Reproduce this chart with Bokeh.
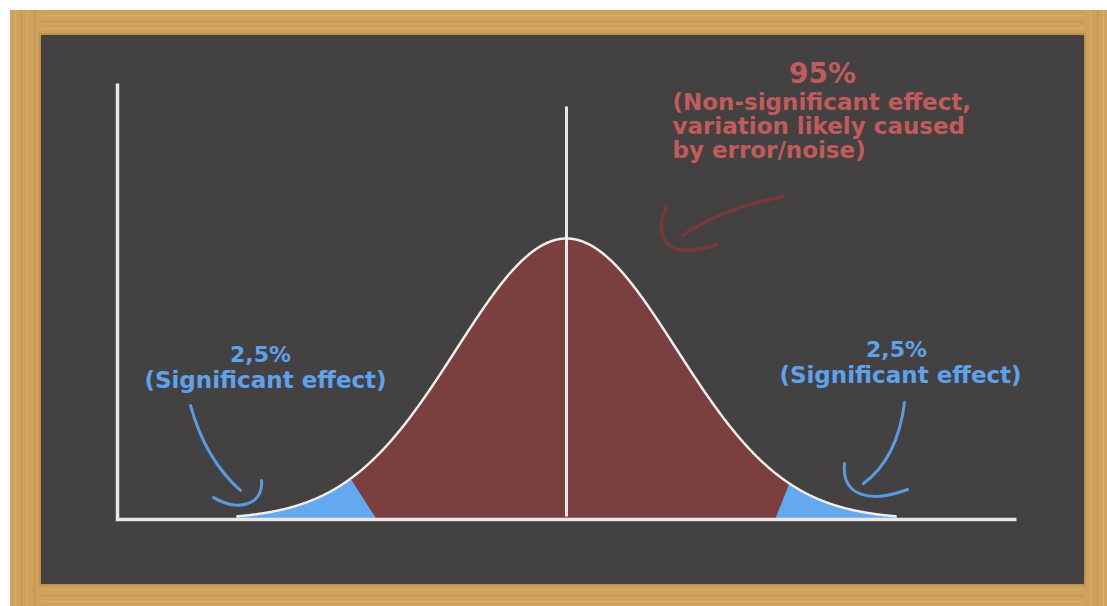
import numpy as np
from bokeh.plotting import figure
from bokeh.models import Range1d, Label
from bokeh.embed import file_html
from bokeh.resources import INLINE

# ---------------- data ----------------
mean = 0.0
std = 1.0
curve_span_sd = [-3.0, 3.0]          # curve drawn from -3 sd to +3 sd
boundary_top_z = [-1.96, 2.03]       # where the hand-drawn cut meets the curve
boundary_base_z = [-1.72, 1.90]      # where the hand-drawn cut meets the baseline
region_share = ["2,5%", "95%", "2,5%"]
tail_note = "(Significant effect)"
center_note_lines = ["(Non-significant effect,",
                     "variation likely caused",
                     "by error/noise)"]

# ---------------- layout (image pixels) ----------------
W, H = 1107, 606
PX0, PY0 = 0, 0
CX = 566.0          # image x of the mean
SD_PX = 110.0       # pixels per standard deviation
BASE_PY = 519.0     # image y of baseline
PEAK_PY = 238.0     # image y of curve peak
peak_pdf = 1.0 / (std * np.sqrt(2 * np.pi))
Y_PX = (BASE_PY - PEAK_PY) / peak_pdf


def X(px):
    return (px - CX) / SD_PX * std + mean


def Y(py):
    return (BASE_PY - py) / Y_PX


FRAME = "#CFA25C"
FRAME_LIGHT = "#DAB26C"
FRAME_DARK = "#BF914F"
BOARD = "#434142"
RED_FILL = "#7B3F3F"
BLUE_FILL = "#64A8F0"
CHALK = "#E9E7E6"
RED_TEXT = "#C25B5B"
RED_ARROW = "#773939"
BLUE_TEXT = "#5FA2EC"
BLUE_ARROW = "#5A9BE0"
FONT = "DejaVu Sans"

p = figure(width=W, height=H, output_backend="svg", toolbar_location=None,
           x_range=Range1d(X(PX0), X(PX0 + W)), y_range=Range1d(Y(PY0 + H), Y(PY0)),
           x_axis_location=None, y_axis_location=None, min_border=0)
p.grid.visible = False
p.outline_line_color = None
p.background_fill_color = "white"
p.border_fill_color = "white"

# ---- wooden frame ----
p.quad(left=X(10), right=X(1115), top=Y(10), bottom=Y(615), color=FRAME)
for sx, c in [(15, FRAME_LIGHT), (21, FRAME_DARK), (27, FRAME_LIGHT), (34, FRAME_DARK),
              (1090, FRAME_LIGHT), (1097, FRAME_DARK), (1103, FRAME_LIGHT)]:
    p.segment(x0=X(sx), y0=Y(10), x1=X(sx), y1=Y(610), color=c, line_width=1.5, alpha=0.7)
for sy, c in [(15, FRAME_LIGHT), (21, FRAME_DARK), (28, FRAME_LIGHT),
              (589, FRAME_LIGHT), (595, FRAME_DARK), (601, FRAME_LIGHT)]:
    p.segment(x0=X(41), y0=Y(sy), x1=X(1083), y1=Y(sy),
              color=c, line_width=1.5, alpha=0.7)
p.quad(left=X(39), right=X(1085), top=Y(33), bottom=Y(585), color=FRAME_DARK)
# ---- board ----
p.quad(left=X(41), right=X(1083), top=Y(35), bottom=Y(583), color=BOARD)

# ---- normal curve ----
z = np.linspace(curve_span_sd[0], curve_span_sd[1], 1201)
pdf = np.exp(-0.5 * ((z - mean) / std) ** 2) / (std * np.sqrt(2 * np.pi))

m = z <= boundary_top_z[0]
p.patch(np.concatenate([z[m], [boundary_base_z[0], z[0]]]),
        np.concatenate([pdf[m], [0, 0]]), color=BLUE_FILL)
m = (z >= boundary_top_z[0]) & (z <= boundary_top_z[1])
p.patch(np.concatenate([[boundary_base_z[0]], z[m], [boundary_base_z[1]]]),
        np.concatenate([[0], pdf[m], [0]]), color=RED_FILL)
m = z >= boundary_top_z[1]
p.patch(np.concatenate([[boundary_base_z[1]], z[m], [z[-1]]]),
        np.concatenate([[0], pdf[m], [0]]), color=BLUE_FILL)

# ---- axes (chalk lines) ----
p.line([X(117), X(117), X(1016)], [Y(83), Y(519), Y(519)], color=CHALK,
       line_width=3.5, line_join="miter")
p.line([mean, mean], [Y(106), Y(516)], color=CHALK, line_width=3)
p.line(z, pdf, color="#F2EEEC", line_width=2.5)

# ---- hand drawn arrows ----
p.quadratic(x0=X(783), y0=Y(196), x1=X(682), y1=Y(235), cx=X(721), cy=Y(208),
            color=RED_ARROW, line_width=3.5, line_cap="round")
p.bezier(x0=X(666), y0=Y(206), x1=X(716), y1=Y(244), cx0=X(652), cy0=Y(240),
         cx1=X(668), cy1=Y(260), color=RED_ARROW, line_width=3.5, line_cap="round")

p.quadratic(x0=X(190), y0=Y(405), x1=X(240), y1=Y(490), cx=X(205), cy=Y(459),
            color=BLUE_ARROW, line_width=3, line_cap="round")
p.bezier(x0=X(213), y0=Y(497), x1=X(261), y1=Y(480), cx0=X(235), cy0=Y(511),
         cx1=X(263), cy1=Y(506), color=BLUE_ARROW, line_width=3, line_cap="round")

p.quadratic(x0=X(904), y0=Y(402), x1=X(863), y1=Y(483), cx=X(897), cy=Y(458),
            color=BLUE_ARROW, line_width=3, line_cap="round")
p.bezier(x0=X(844), y0=Y(463), x1=X(907), y1=Y(489), cx0=X(841), cy0=Y(496),
         cx1=X(870), cy1=Y(503), color=BLUE_ARROW, line_width=3, line_cap="round")

# ---- texts ----
def label(px, py, text, color, size, align="center"):
    p.add_layout(Label(x=X(px), y=Y(py), text=text, text_color=color,
                       text_font=FONT, text_font_style="bold",
                       text_font_size=f"{size}px", text_align=align,
                       text_baseline="middle"))


label(822, 73, region_share[1], RED_TEXT, 28)
for i, line in enumerate(center_note_lines):
    label(672, 101 + 24 * i, line, RED_TEXT, 23, align="left")

label(260, 354, region_share[0], BLUE_TEXT, 22)
label(265, 379, tail_note, BLUE_TEXT, 23)
label(896, 349, region_share[2], BLUE_TEXT, 22)
label(900, 374, tail_note, BLUE_TEXT, 23)

open("out.html", "w").write(file_html(p, INLINE))
